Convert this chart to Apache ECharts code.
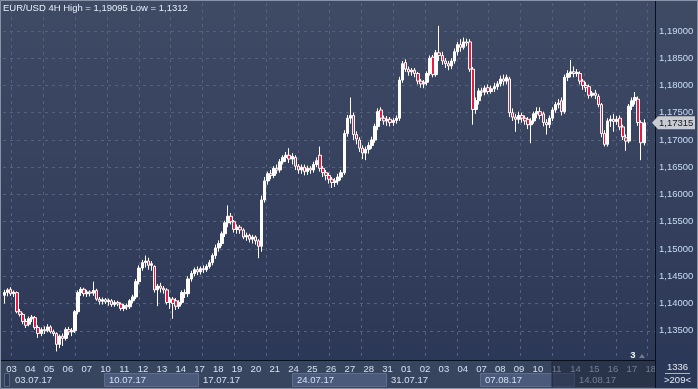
<!DOCTYPE html>
<html><head><meta charset="utf-8">
<script src="https://cdn.jsdelivr.net/npm/echarts@6/dist/echarts.min.js"></script>
<style>html,body{margin:0;padding:0;background:#2f3b57;}#c{width:698px;height:389px;}</style>
</head><body><div id="c"></div>
<script>
// ---------- DATA ----------
const titleText = 'EUR/USD 4H High = 1,19095 Low = 1,1312';
// candles: [open, close, low, high]
const week0307 = [
[1.1415,1.1420,1.1400,1.1425],[1.1420,1.1425,1.1413,1.1428],[1.1426,1.1418,1.1414,1.1430],[1.1418,1.1421,1.1412,1.1424],
[1.1420,1.1385,1.1382,1.1422],[1.1385,1.1380,1.1376,1.1390],[1.1380,1.1367,1.1362,1.1383],[1.1367,1.1360,1.1355,1.1372],
[1.1362,1.1372,1.1358,1.1376],[1.1372,1.1375,1.1366,1.1379],[1.1374,1.1356,1.1352,1.1377],[1.1356,1.1345,1.1337,1.1360],
[1.1345,1.1352,1.1340,1.1356],[1.1352,1.1350,1.1344,1.1358],[1.1350,1.1357,1.1347,1.1362],[1.1357,1.1348,1.1345,1.1360],
[1.1348,1.1345,1.1340,1.1352],[1.1345,1.1325,1.1312,1.1347],[1.1325,1.1340,1.1318,1.1343],[1.1340,1.1336,1.1322,1.1345],
[1.1336,1.1352,1.1332,1.1356],[1.1352,1.1348,1.1342,1.1357],[1.1348,1.1350,1.1340,1.1355],[1.1350,1.1385,1.1346,1.1388],
[1.1385,1.1420,1.1380,1.1424],[1.1420,1.1426,1.1414,1.1430],[1.1426,1.1418,1.1413,1.1429],[1.1418,1.1421,1.1412,1.1425],
[1.1421,1.1419,1.1413,1.1424],[1.1419,1.1424,1.1414,1.1440],[1.1424,1.1408,1.1405,1.1427],[1.1408,1.1404,1.1398,1.1412],
[1.1404,1.1407,1.1398,1.1411]
];
const week1007 = [
[1.1407,1.1403,1.1399,1.1410],[1.1403,1.1406,1.1396,1.1409],[1.1405,1.1398,1.1394,1.1408],[1.1398,1.1402,1.1394,1.1406],
[1.1402,1.1399,1.1395,1.1405],[1.1399,1.1391,1.1387,1.1402],[1.1391,1.1396,1.1386,1.1399],[1.1396,1.1394,1.1388,1.1400],
[1.1394,1.1405,1.1390,1.1408],[1.1405,1.1412,1.1400,1.1416],[1.1412,1.1440,1.1408,1.1445],[1.1440,1.1465,1.1435,1.1470],
[1.1465,1.1475,1.1460,1.1480],[1.1475,1.1478,1.1466,1.1488],[1.1478,1.1470,1.1462,1.1484],[1.1470,1.1473,1.1460,1.1478],
[1.1468,1.1425,1.1420,1.1470],[1.1425,1.1432,1.1395,1.1436],[1.1432,1.1428,1.1420,1.1438],[1.1428,1.1425,1.1418,1.1432],
[1.1425,1.1402,1.1398,1.1428],[1.1402,1.1408,1.1390,1.1412],[1.1408,1.1400,1.1372,1.1412],[1.1405,1.1395,1.1388,1.1410],
[1.1395,1.1402,1.1390,1.1406],[1.1402,1.1420,1.1398,1.1424],[1.1420,1.1418,1.1410,1.1426],[1.1418,1.1445,1.1412,1.1450],
[1.1445,1.1455,1.1440,1.1460],[1.1455,1.1462,1.1450,1.1466],[1.1462,1.1458,1.1452,1.1468]
];
const week1707 = [
[1.1458,1.1464,1.1453,1.1468],[1.1464,1.1462,1.1456,1.1470],[1.1462,1.1468,1.1458,1.1472],[1.1468,1.1475,1.1464,1.1480],
[1.1475,1.1488,1.1470,1.1492],[1.1488,1.1502,1.1482,1.1508],[1.1502,1.1510,1.1495,1.1516],[1.1510,1.1528,1.1505,1.1532],
[1.1528,1.1548,1.1522,1.1552],[1.1548,1.1560,1.1540,1.1580],[1.1560,1.1550,1.1545,1.1566],[1.1550,1.1536,1.1530,1.1553],
[1.1536,1.1540,1.1528,1.1545],[1.1540,1.1535,1.1528,1.1544],[1.1535,1.1522,1.1518,1.1538],[1.1522,1.1525,1.1515,1.1530],
[1.1525,1.1518,1.1512,1.1528],[1.1518,1.1522,1.1510,1.1526],[1.1522,1.1515,1.1508,1.1525],[1.1515,1.1505,1.1483,1.1518],
[1.1505,1.1590,1.1495,1.1598],[1.1590,1.1625,1.1585,1.1632],[1.1625,1.1638,1.1618,1.1642],[1.1638,1.1635,1.1628,1.1645],
[1.1635,1.1648,1.1630,1.1652],[1.1648,1.1645,1.1638,1.1655],[1.1645,1.1660,1.1640,1.1665],[1.1660,1.1668,1.1655,1.1672],
[1.1668,1.1672,1.1660,1.1678],[1.1672,1.1665,1.1658,1.1685],[1.1665,1.1670,1.1655,1.1676]
];
const week2407 = [
[1.1668,1.1652,1.1645,1.1672],[1.1652,1.1645,1.1638,1.1656],[1.1645,1.1650,1.1638,1.1655],[1.1650,1.1642,1.1635,1.1655],
[1.1642,1.1648,1.1636,1.1653],[1.1648,1.1645,1.1638,1.1652],[1.1645,1.1655,1.1640,1.1660],[1.1655,1.1662,1.1650,1.1668],
[1.1672,1.1648,1.1642,1.1688],[1.1648,1.1640,1.1632,1.1652],[1.1640,1.1635,1.1626,1.1645],[1.1635,1.1628,1.1620,1.1640],
[1.1628,1.1622,1.1612,1.1632],[1.1622,1.1625,1.1614,1.1630],[1.1625,1.1632,1.1618,1.1638],[1.1632,1.1640,1.1626,1.1645],
[1.1640,1.1712,1.1636,1.1718],[1.1712,1.1740,1.1706,1.1746],[1.1740,1.1745,1.1730,1.1778],[1.1745,1.1710,1.1700,1.1750],
[1.1710,1.1702,1.1692,1.1716],[1.1700,1.1685,1.1678,1.1705],[1.1685,1.1676,1.1665,1.1690],[1.1676,1.1683,1.1663,1.1688],
[1.1683,1.1690,1.1675,1.1696],[1.1690,1.1700,1.1684,1.1706],[1.1700,1.1725,1.1695,1.1730],[1.1725,1.1752,1.1718,1.1758],
[1.1755,1.1740,1.1735,1.1760],[1.1740,1.1735,1.1728,1.1745],[1.1735,1.1738,1.1726,1.1744]
];
const week3107 = [
[1.1738,1.1732,1.1725,1.1742],[1.1732,1.1736,1.1726,1.1740],[1.1736,1.1740,1.1730,1.1745],[1.1740,1.1810,1.1735,1.1816],
[1.1810,1.1840,1.1805,1.1845],[1.1842,1.1830,1.1825,1.1848],[1.1830,1.1825,1.1818,1.1835],[1.1825,1.1828,1.1818,1.1832],
[1.1828,1.1822,1.1815,1.1832],[1.1822,1.1808,1.1802,1.1825],[1.1808,1.1803,1.1796,1.1812],[1.1803,1.1806,1.1795,1.1810],
[1.1806,1.1822,1.1800,1.1826],[1.1822,1.1850,1.1818,1.1855],[1.1852,1.1820,1.1815,1.1856],[1.1820,1.1860,1.1816,1.1865],
[1.1860,1.1855,1.1845,1.19095],[1.1855,1.1845,1.1838,1.1862],[1.1845,1.1840,1.1832,1.1850],[1.1840,1.1836,1.1828,1.1845],
[1.1836,1.1845,1.1830,1.1850],[1.1845,1.1862,1.1840,1.1868],[1.1862,1.1875,1.1855,1.1880],[1.1875,1.1870,1.1862,1.1885],
[1.1870,1.1880,1.1866,1.1888],[1.1880,1.1878,1.1872,1.1886],[1.1880,1.1830,1.1825,1.1885],[1.1830,1.1756,1.1728,1.1834],
[1.1756,1.1772,1.1748,1.1778],[1.1772,1.1790,1.1765,1.1795]
];
const week0708 = [
[1.1790,1.1788,1.1780,1.1796],[1.1788,1.1795,1.1782,1.1800],[1.1796,1.1789,1.1784,1.1802],[1.1789,1.1794,1.1785,1.1800],
[1.1794,1.1798,1.1788,1.1805],[1.1798,1.1803,1.1792,1.1808],[1.1803,1.1812,1.1798,1.1818],[1.1812,1.1808,1.1800,1.1820],
[1.1808,1.1815,1.1802,1.1820],[1.1812,1.1750,1.1742,1.1816],[1.1750,1.1742,1.1735,1.1758],[1.1742,1.1738,1.1715,1.1748],
[1.1738,1.1745,1.1730,1.1752],[1.1745,1.1740,1.1732,1.1750],[1.1740,1.1735,1.1728,1.1745],[1.1738,1.1728,1.1720,1.1742],
[1.1728,1.1735,1.1694,1.1740],[1.1735,1.1748,1.1730,1.1752],[1.1748,1.1752,1.1740,1.1760],[1.1752,1.1745,1.1738,1.1760],
[1.1748,1.1732,1.1725,1.1752],[1.1732,1.1728,1.1710,1.1738],[1.1728,1.1740,1.1722,1.1745],[1.1740,1.1755,1.1735,1.1760],
[1.1755,1.1765,1.1750,1.1770],[1.1765,1.1768,1.1758,1.1775],[1.1772,1.1752,1.1745,1.1778],[1.1752,1.1815,1.1748,1.1820],
[1.1815,1.1822,1.1808,1.1828],[1.1822,1.1825,1.1815,1.1847],[1.1825,1.1822,1.1815,1.1835]
];
const week1408 = [
[1.1822,1.1824,1.1816,1.1830],[1.1822,1.1808,1.1802,1.1826],[1.1808,1.1800,1.1792,1.1812],[1.1800,1.1796,1.1788,1.1806],
[1.1798,1.1782,1.1776,1.1802],[1.1782,1.1786,1.1778,1.1790],[1.1786,1.1782,1.1775,1.1792],[1.1780,1.1765,1.1760,1.1784],
[1.1765,1.1712,1.1705,1.1768],[1.1712,1.1692,1.1688,1.1718],[1.1692,1.1735,1.1688,1.1740],[1.1735,1.1738,1.1724,1.1745],
[1.1738,1.1734,1.1715,1.1748],[1.1734,1.1738,1.1728,1.1744],[1.1740,1.1724,1.1718,1.1745],[1.1724,1.1706,1.1700,1.1728],
[1.1704,1.1698,1.1680,1.1710],[1.1698,1.1762,1.1694,1.1766],[1.1762,1.1772,1.1755,1.1778],[1.1772,1.1778,1.1765,1.1788],
[1.1775,1.1732,1.1726,1.1780],[1.1732,1.1695,1.1663,1.1736],[1.1695,1.17315,1.1690,1.1738]
];
const dayLabels = ['03','04','05','06','07','10','11','12','13','14','17','18','19','20','21',
  '24','25','26','27','28','31','01','02','03','04','07','08','09','10','11','14','15','16','17','18'];
const weekLabels = ['03.07.17','10.07.17','17.07.17','24.07.17','31.07.17','07.08.17','14.08.17'];
const lastPrice = 1.17315;
const totalBars = '1336';
const visibleBars = '>209<';
const shiftBars = 3;

// ---------- CHART ----------
const bars = [].concat(week0307, week1007, week1707, week2407, week3107, week0708, week1408);
const categories = bars.map((_, i) => 'b' + i);
for (let i = 0; i < shiftBars; i++) categories.push('s' + i);

const FONT = 'Liberation Sans';
const L = 3, R = 43, T = 3, B = 29;
const pxPerUnit = 5450;               // vertical scale of the price axis
const labTop = 31, labBottom = 389 - 330.75;
const yMax = 1.19 + (labTop - T) / pxPerUnit;
const yMin = 1.19 - (389 - B - labTop) / pxPerUnit;
const daySpan = (698 - R - 11.5) / 18.8;
const vgSpan = (698 - R - 11.7) / 31.8;
const dash = {color: '#55627c', type: [3, 4], width: 1};

const chart = echarts.init(document.getElementById('c'), null, {renderer: 'canvas', width: 698, height: 389});
chart.setOption({
  animation: false,
  backgroundColor: {type: 'linear', x: 0, y: 0, x2: 0, y2: 1,
    colorStops: [{offset: 0, color: '#3f4b65'}, {offset: 1, color: '#2a3655'}]},
  title: {text: titleText, left: 3, top: 3, padding: 0,
    textStyle: {color: '#e6ecf6', fontSize: 9.5, fontWeight: 'normal', fontFamily: FONT}},
  grid: [
    {left: L, right: R, top: T, bottom: B},
    {left: 11.5, right: R, top: T, bottom: B},
    {left: L, right: R, top: labTop, bottom: labBottom},
    {left: 11.7, right: R, top: T, bottom: B}
  ],
  xAxis: [
    {type: 'category', gridIndex: 0, data: categories, boundaryGap: true,
      axisLine: {show: false}, axisTick: {show: false}, axisLabel: {show: false}, splitLine: {show: false}},
    {type: 'value', gridIndex: 1, min: 0, max: daySpan, interval: 1,
      axisLine: {show: false}, axisTick: {show: false}, splitLine: {show: false},
      axisLabel: {show: true, margin: 4, color: '#d3e0f2', fontSize: 9.5, fontFamily: FONT, showMaxLabel: false,
        formatter: v => (Number.isInteger(v) && dayLabels[v]) ? dayLabels[v] : ''}},
    {type: 'value', gridIndex: 2, show: false},
    {type: 'value', gridIndex: 3, min: 0, max: vgSpan, interval: 1,
      axisLine: {show: false}, axisTick: {show: false}, axisLabel: {show: false},
      splitLine: {show: true, lineStyle: dash}}
  ],
  yAxis: [
    {type: 'value', gridIndex: 0, min: yMin, max: yMax, show: false, splitLine: {show: false}},
    {type: 'value', gridIndex: 1, show: false},
    {type: 'value', gridIndex: 2, min: 1.135, max: 1.19, interval: 0.005, position: 'right',
      axisLine: {show: false}, axisTick: {show: false},
      splitLine: {show: true, lineStyle: dash},
      axisLabel: {margin: 4, color: '#c9dcf3', fontSize: 9.5, fontFamily: FONT,
        formatter: v => v.toFixed(5).replace('.', ',')}},
    {type: 'value', gridIndex: 3, show: false}
  ],
  series: [{
    type: 'candlestick', xAxisIndex: 0, yAxisIndex: 0, data: bars, barWidth: 3,
    itemStyle: {color: '#ffffff', color0: '#ec1840', borderColor: '#ffffff', borderColor0: '#ffffff', borderWidth: 1}
  }]
});

// ---------- DECORATIONS (positions derived from axes) ----------
const dayX = d => chart.convertToPixel({xAxisIndex: 1}, d);
const py = chart.convertToPixel({yAxisIndex: 0}, lastPrice);
const g = [];
// bottom strip background
g.push({type: 'rect', z: -10, shape: {x: 0, y: 361, width: 655, height: 27}, style: {fill: '#38455f'}});
// week boxes
weekLabels.forEach((w, k) => {
  const x0 = dayX(k * 5) - 1.5;
  const x1 = Math.min(dayX(k * 5 + 5) - 1.5, 655);
  if (k % 2 === 1) {
    g.push({type: 'rect', z: -9, shape: {x: x0 + 0.5, y: 373.5, width: x1 - x0, height: 13},
      style: {fill: '#4b597a', stroke: '#5f6d8c', lineWidth: 1}});
  }
  g.push({type: 'text', z: 5, style: {text: w, x: x0 + 5, y: 380.5, verticalAlign: 'middle',
    fill: '#d3e0f2', font: '9.5px "Liberation Sans"'}});
});
// small box at left of week row
g.push({type: 'rect', z: -8, shape: {x: 4.5, y: 373.5, width: 5, height: 13}, style: {fill: '#2f3b56', stroke: '#56647f', lineWidth: 1}});
// dimmed overlay on last part of the time scale
const ovX = dayX(29) - 5;
g.push({type: 'rect', z: 50, shape: {x: ovX, y: 361, width: 655 - ovX, height: 26}, style: {fill: 'rgba(30,38,58,0.55)'}});
g.push({type: 'line', z: 51, shape: {x1: ovX + 0.5, y1: 361, x2: ovX + 0.5, y2: 387}, style: {stroke: '#22293d', lineWidth: 1}});
// separator lines
g.push({type: 'line', z: 60, shape: {x1: 0, y1: 360.5, x2: 655, y2: 360.5}, style: {stroke: '#0b0f18', lineWidth: 1}});
g.push({type: 'line', z: 60, shape: {x1: 655.5, y1: 0, x2: 655.5, y2: 389}, style: {stroke: '#0b0f18', lineWidth: 1}});
// shift marker
g.push({type: 'text', z: 60, style: {text: String(shiftBars), x: 633, y: 355, align: 'center', verticalAlign: 'middle',
  fill: '#eef3fa', font: 'bold 9.5px "Liberation Sans"'}});
g.push({type: 'polygon', z: 60, shape: {points: [[639, 358], [642, 354], [645, 358]]}, style: {fill: '#6f7a90'}});
// current price tag
g.push({type: 'polygon', z: 60, shape: {points: [[652, py], [658, py - 6.5], [695, py - 6.5], [695, py + 6.5], [658, py + 6.5]]},
  style: {fill: '#c8cbd1'}});
g.push({type: 'text', z: 61, style: {text: lastPrice.toFixed(5).replace('.', ','), x: 659, y: py + 0.5, verticalAlign: 'middle',
  fill: '#15181f', font: '9.5px "Liberation Sans"'}});
// right-bottom info
g.push({type: 'text', z: 60, style: {text: totalBars, x: 677.5, y: 367, align: 'center', verticalAlign: 'middle',
  fill: '#e3eaf4', font: '9.5px "Liberation Sans"'}});
g.push({type: 'line', z: 60, shape: {x1: 665, y1: 373.5, x2: 690, y2: 373.5}, style: {stroke: '#aab4c6', lineWidth: 1}});
g.push({type: 'text', z: 60, style: {text: visibleBars, x: 677.5, y: 380.5, align: 'center', verticalAlign: 'middle',
  fill: '#e3eaf4', font: '9.5px "Liberation Sans"'}});
// frame
g.push({type: 'rect', z: 70, shape: {x: 0.5, y: 0.5, width: 697, height: 388}, style: {fill: 'none', stroke: '#8a93a5', lineWidth: 1}});
chart.setOption({graphic: g});
</script>
</body></html>
